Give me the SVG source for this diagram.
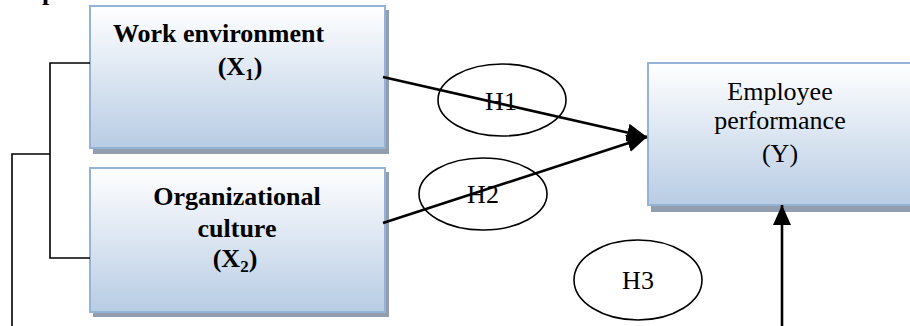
<svg xmlns="http://www.w3.org/2000/svg" width="910" height="326" viewBox="0 0 910 326">
  <defs>
    <linearGradient id="boxFill" x1="0" y1="0" x2="0" y2="1">
      <stop offset="0" stop-color="#ffffff"/>
      <stop offset="1" stop-color="#b8cce4"/>
    </linearGradient>
    <marker id="arrow" markerUnits="userSpaceOnUse" markerWidth="22" markerHeight="18" refX="20" refY="9" orient="auto">
      <path d="M0,0 L20,9 L0,18 Z" fill="#000"/>
    </marker>
  </defs>
  <style>
    .shadow { fill: #929eae; }
    .box { fill: url(#boxFill); stroke: #95b3d7; stroke-width: 2; }
    .bold { font-family: "Liberation Serif", "Times New Roman", serif; font-weight: bold; font-size: 26px; fill: #000; }
    .plain { font-family: "Liberation Serif", "Times New Roman", serif; font-size: 26px; fill: #000; }
    .oval { fill: none; stroke: #000; stroke-width: 1.6; }
    .link { fill: none; stroke: #000; stroke-width: 1.6; }
    .path { fill: none; stroke: #000; stroke-width: 2.6; }
  </style>

  <rect width="910" height="326" fill="#fff"/>

  <!-- heading descender cut at the top edge -->
  <text class="bold" x="42" y="0">p</text>

  <g id="work-environment">
    <rect class="shadow" x="93" y="10" width="296" height="144"/>
    <rect class="box" x="90" y="6" width="295" height="142"/>
    <text class="bold" x="113" y="42">Work environment</text>
    <text class="bold" x="240" y="75" text-anchor="middle">(X<tspan font-size="17" dy="5">1</tspan><tspan dy="-5">)</tspan></text>
  </g>

  <g id="organizational-culture">
    <rect class="shadow" x="93" y="172" width="296" height="145"/>
    <rect class="box" x="90" y="168" width="295" height="144"/>
    <text class="bold" x="237" y="205" text-anchor="middle">Organizational</text>
    <text class="bold" x="237" y="237" text-anchor="middle">culture</text>
    <text class="bold" x="235" y="267" text-anchor="middle">(X<tspan font-size="17" dy="5">2</tspan><tspan dy="-5">)</tspan></text>
  </g>

  <g id="employee-performance">
    <rect class="shadow" x="651" y="67" width="270" height="145"/>
    <rect class="box" x="648" y="63" width="272" height="142"/>
    <text class="plain" x="780" y="100" text-anchor="middle">Employee</text>
    <text class="plain" x="780" y="129" text-anchor="middle">performance</text>
    <text class="plain" x="780" y="162" text-anchor="middle">(Y)</text>
  </g>

  <g id="h1">
    <ellipse class="oval" cx="502" cy="100" rx="64" ry="36"/>
    <text class="plain" x="501" y="110" text-anchor="middle">H1</text>
  </g>
  <g id="h2">
    <ellipse class="oval" cx="483" cy="194" rx="64" ry="36"/>
    <text class="plain" x="483" y="203" text-anchor="middle">H2</text>
  </g>
  <g id="h3">
    <ellipse class="oval" cx="638" cy="280" rx="64" ry="40"/>
    <text class="plain" x="638" y="289" text-anchor="middle">H3</text>
  </g>

  <g id="connectors">
    <!-- bracket joining X1 and X2 -->
    <polyline class="link" points="90,63 50,63 50,258 90,258"/>
    <!-- joint path of X1 and X2 towards Y -->
    <polyline class="link" points="50,154 12,154 12,326"/>
    <line class="path" x1="383" y1="77" x2="647" y2="137" marker-end="url(#arrow)"/>
    <line class="path" x1="383" y1="223" x2="647" y2="137" marker-end="url(#arrow)"/>
    <line class="path" x1="782" y1="326" x2="782" y2="205" marker-end="url(#arrow)"/>
  </g>
</svg>
